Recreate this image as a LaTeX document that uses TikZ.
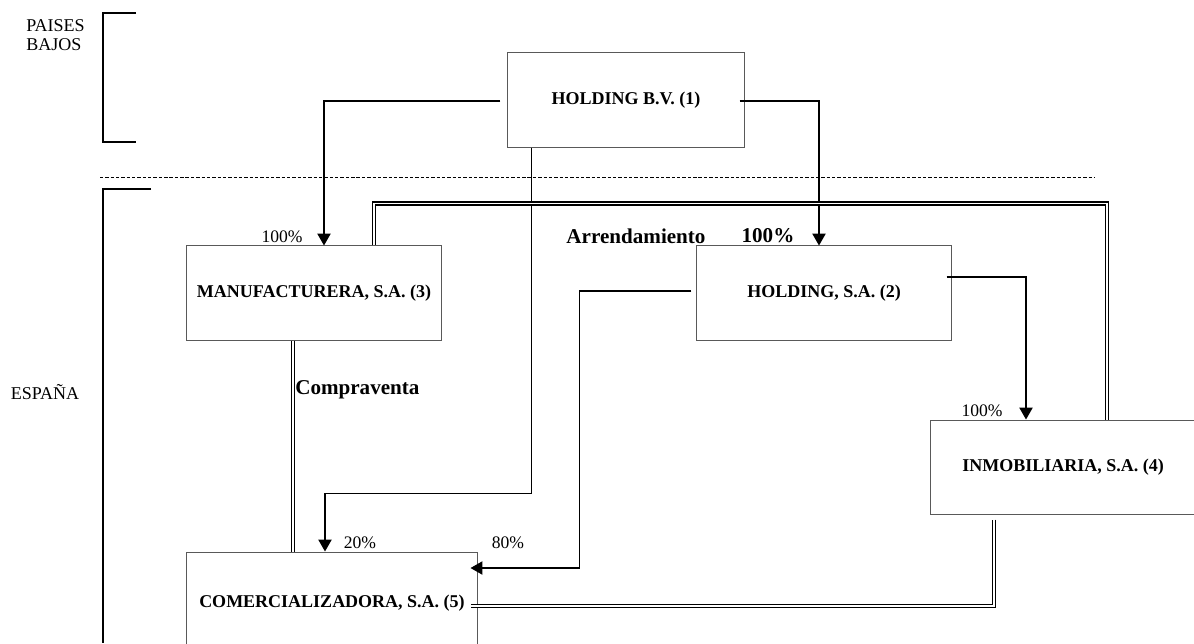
\documentclass[tikz,border=0pt]{standalone}
\usepackage{fontspec}
\setmainfont{Liberation Serif}
\usetikzlibrary{arrows.meta,calc}

\begin{document}
\begin{tikzpicture}[x=0.025cm,y=-0.025cm,
    caja/.style={draw=black!65,line width=0.7pt,inner sep=0pt,minimum height=2.35cm,
      font=\fontsize{12.8}{15}\selectfont\bfseries},
    flecha/.style={line width=0.8pt,-{Triangle[length=8.5pt,width=9.5pt]}},
    doble/.style={double,line width=0.9pt,double distance=1.4pt},
    pct/.style={font=\fontsize{12.5}{14}\selectfont,inner sep=0pt},
    rotulo/.style={font=\fontsize{15}{18}\selectfont\bfseries,inner sep=0pt}]
            \useasboundingbox (0,0) rectangle (1194,643);
            \fill [white] (0,0) rectangle (1194,643);%
            
            % Drawing country brackets
            \draw [line width=0.8pt] (136,13) -- (103,13) -- (103,142) -- (136,142);%
            \draw [line width=0.8pt] (151,189) -- (103,189) -- (103,643);%
            \node (paises) at (26,35) [anchor=west,align=left,inner sep=0pt,
              font=\fontsize{12.8}{13.5}\selectfont] {PAISES\\BAJOS};%
            \node (espana) at (45,392) [font=\fontsize{12.8}{14}\selectfont,inner sep=0pt] {ESPAÑA};%
            
            % Drawing border line
            \draw [line width=0.5pt,dash pattern=on 2.4pt off 1.4pt] (100,177) -- (1095,177);%
            
            % Drawing boxes
            \node (holdbv) at (626,100) [caja,minimum width=5.9cm] {HOLDING B.V. (1)};%
            \node (manuf) at (314,293) [caja,minimum width=6.375cm] {MANUFACTURERA, S.A. (3)};%
            \node (holdsa) at (824,293) [caja,minimum width=6.35cm] {HOLDING, S.A. (2)};%
            \node (inmob) at (1063,467) [caja,minimum width=6.6cm] {INMOBILIARIA, S.A. (4)};%
            \node (comer) at (332,601) [caja,minimum width=7.25cm,minimum height=2.45cm,
              text depth=0pt] {COMERCIALIZADORA, S.A. (5)};%
            
            % Drawing holdings
            \draw [flecha] ($(holdbv.west)+(-7,1)$) -| ($(manuf.north)+(10,0)$);%
            \draw [flecha] ($(holdbv.east)+(-5,1)$) -| ($(holdsa.north)+(-5,0)$);%
            \draw [flecha] ($(holdbv.south west)+(24,0)$) |- ($(comer.north)+(-7,-58)$)
              -- ($(comer.north)+(-7,0)$);%
            \draw [flecha] ($(holdsa.west)+(-5,-2)$) -- ++(-112,0) |- ($(comer.east)+(-7,-33)$);%
            \draw [flecha] ($(holdsa.east)+(-5,-16)$) -| ($(inmob.north)+(-37,0)$);%
            
            % Drawing operations
            \draw [doble] ($(manuf.north)+(60,0)$) |- ($(inmob.north)+(44,-216)$)
              -- ($(inmob.north)+(44,0)$);%
            \draw [doble] ($(manuf.south)+(-21,0)$) -- ($(comer.north)+(-39,0)$);%
            \draw [doble] ($(inmob.south)+(-69,5)$) |- ($(comer.east)+(-7,5)$);%
            
            % Marking percentages
            \node (pmanuf) at (282,237) [pct] {100\%};%
            \node (pinmob) at (982,411) [pct] {100\%};%
            \node (pcomerbv) at (360,543) [pct] {20\%};%
            \node (pcomersa) at (508,543) [pct] {80\%};%
            
            % Marking operations
            \node (arrend) at (636,236) [rotulo] {Arrendamiento};%
            \node (pholdsa) at (768,236) [rotulo] {100\%};%
            \node (compra) at (295,390) [rotulo,anchor=west] {Compraventa};%
        \end{tikzpicture}
\end{document}
